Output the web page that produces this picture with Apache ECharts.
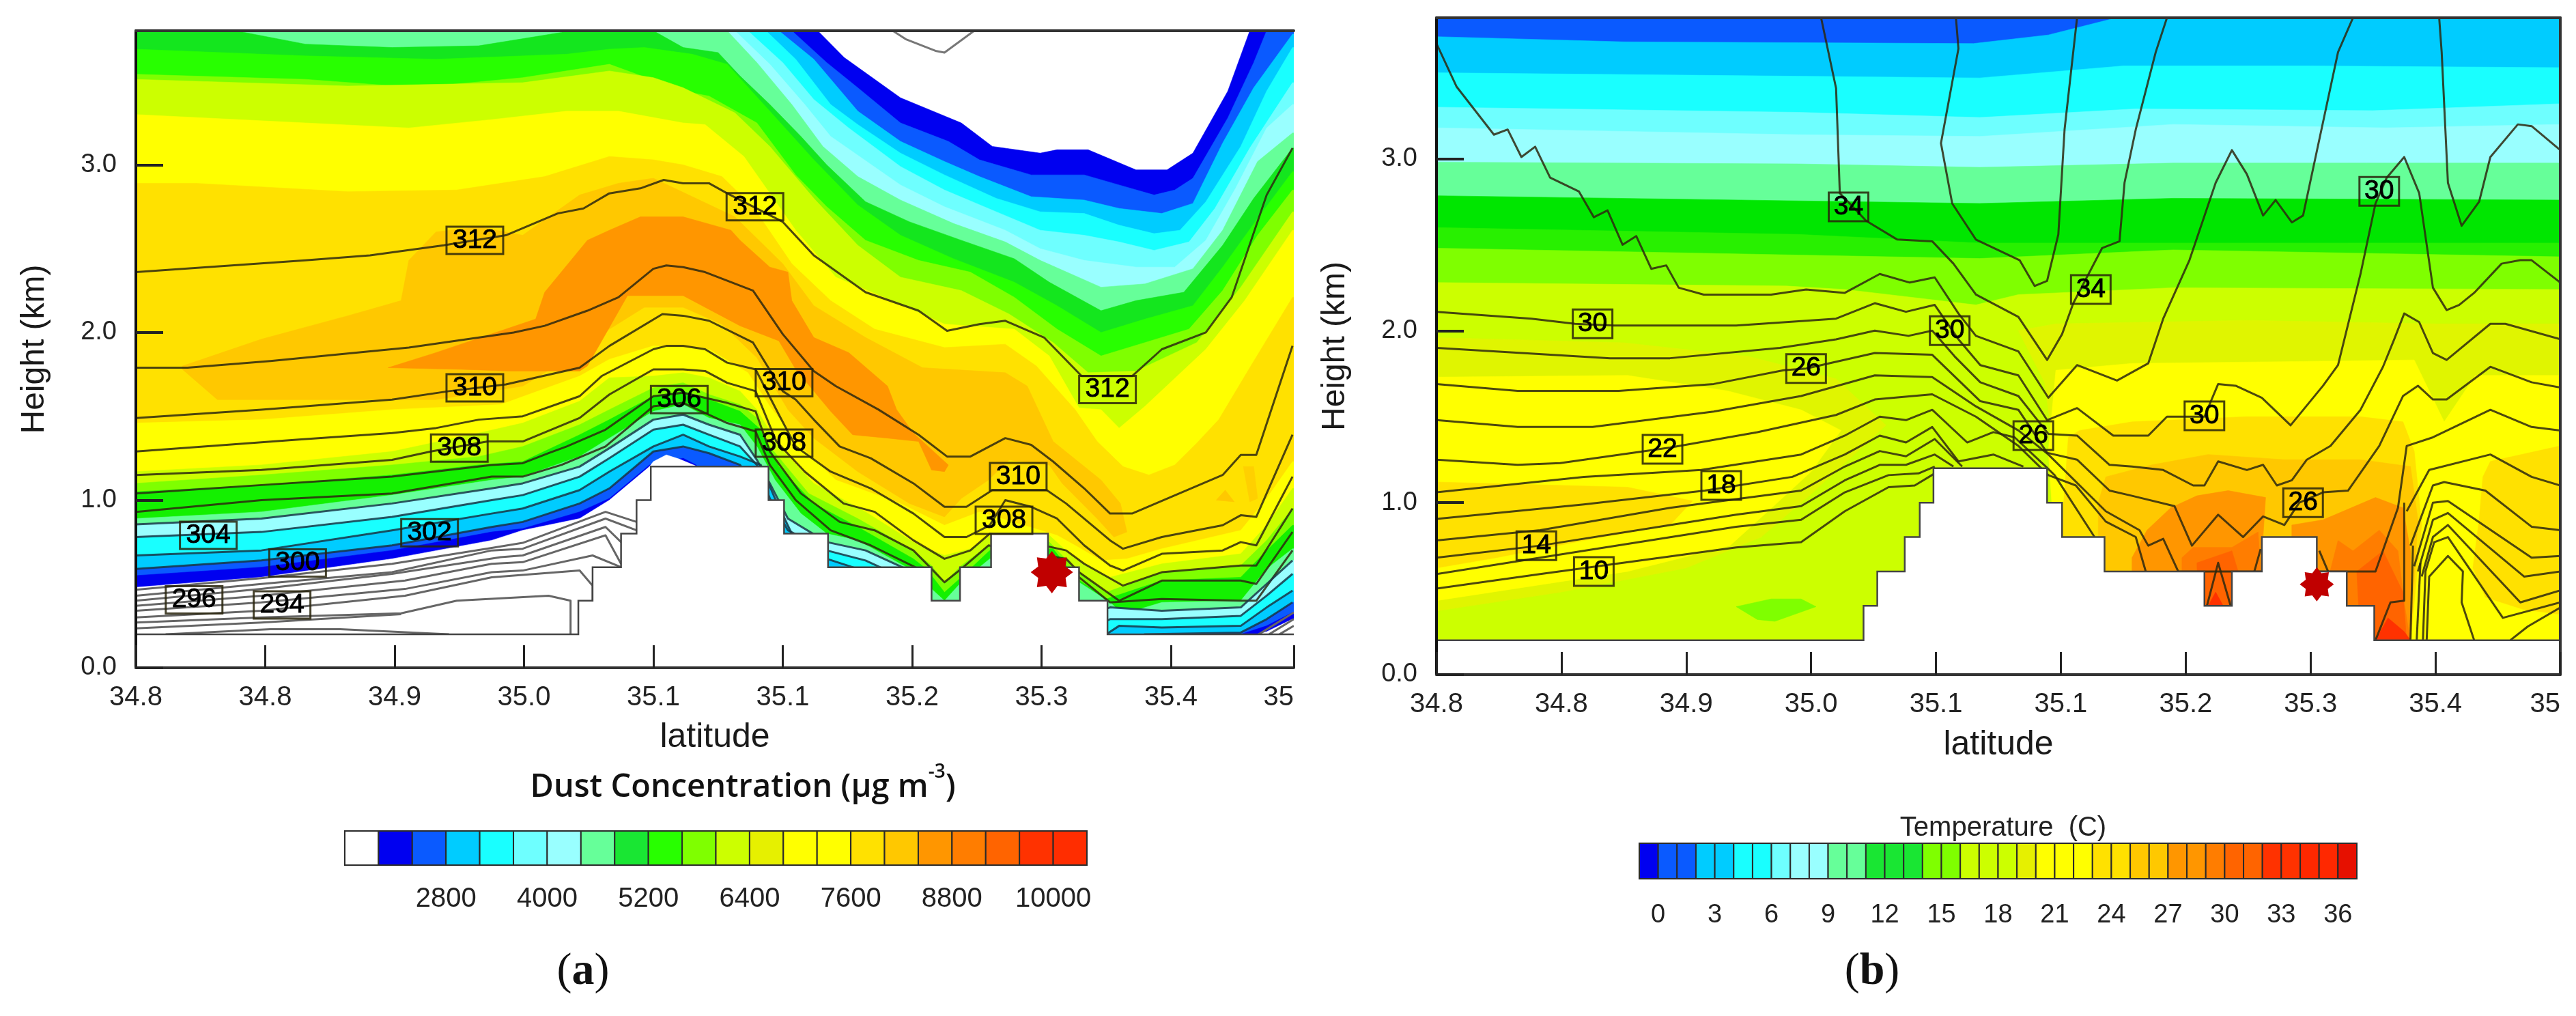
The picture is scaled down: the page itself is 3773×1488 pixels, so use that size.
<!DOCTYPE html>
<html><head><meta charset="utf-8"><style>html,body{margin:0;background:#fff}#c{width:3773px;height:1488px}</style>
<script src="https://cdn.jsdelivr.net/npm/echarts@6/dist/echarts.min.js"></script></head><body><div id="c"></div>
<script>
// x positions are in tick units of the printed latitude axis, y in km
const LAT_TICKS=['34.8','34.8','34.9','35.0','35.1','35.1','35.2','35.3','35.4','35'];
const DUST_TICKS={3:'2800',6:'4000',9:'5200',12:'6400',15:'7600',18:'8800',21:'10000'};
const TEMP_TICKS=[0,3,6,9,12,15,18,21,24,27,30,33,36];
const DUST_COLORS=['#ffffff','#0000f0','#0a5aff','#00ccff','#19ffff','#6effff','#99ffff','#66ff99','#19e633','#28ff00','#7fff00','#ccff00','#e6f000','#ffff00','#ffff00','#ffe100','#ffc800','#ff9600','#ff7d00','#ff6400','#ff3200','#ff2d00'];
const TEMP_COLORS=['#0000f0','#0a5aff','#0a5aff','#00ccff','#00ccff','#19ffff','#19ffff','#6effff','#99ffff','#99ffff','#66ff99','#66ff99','#19e633','#19e633','#19e633','#7fff00','#7fff00','#ccff00','#ccff00','#ccff00','#e6f000','#ffff00','#ffff00','#ffff00','#ffe100','#ffe100','#ffc800','#ffc800','#ff9600','#ff9600','#ff7d00','#ff6400','#ff6400','#ff3200','#ff3200','#ff2800','#ff2800','#e61000'];
const TERRAIN_STEPS=[[3.42,.2],[3.53,.4],[3.75,.6],[3.87,.8],[3.98,1],[4.89,1.2],[5.01,1],[5.35,.8],[6.15,.6],[6.37,.4],[6.61,.6],[7.05,.8],[7.29,.6],[7.51,.4],[9.1,.2]];

// ---------- panel (a) dust: upper band edges
const A_U0=[[0,4.5],[5,4.3],[5.27,3.8],[5.475,3.64],[5.91,3.4],[6.38,3.25],[6.62,3.11],[6.99,3.07],[7.12,3.09],[7.36,3.09],[7.73,2.97],[7.97,2.97],[8.17,3.07],[8.44,3.44],[8.61,3.8],[8.7,4.3],[8.95,4.5]];
const A_U1=[[0,4.4],[4.8,4.2],[5.07,3.8],[5.34,3.61],[5.58,3.46],[5.91,3.25],[6.28,3.14],[6.52,3.03],[6.92,2.94],[7.33,2.94],[7.6,2.88],[7.87,2.82],[8.03,2.85],[8.17,2.92],[8.44,3.28],[8.64,3.61],[8.74,3.8],[8.95,4.2]];
const A_U2=[[0,4.4],[4.7,4.2],[4.97,3.8],[5.24,3.63],[5.58,3.32],[5.91,3.14],[6.25,3.02],[6.52,2.93],[6.92,2.81],[7.33,2.79],[7.6,2.74],[7.93,2.71],[8.17,2.77],[8.4,3.13],[8.64,3.46],[8.94,3.78]];
const A_U3=[[0,4.3],[4.6,4.2],[4.87,3.8],[5.1,3.63],[5.37,3.36],[5.58,3.24],[5.91,3.07],[6.25,2.94],[6.65,2.8],[6.99,2.72],[7.33,2.71],[7.6,2.64],[7.87,2.59],[8.07,2.61],[8.27,2.78],[8.54,3.11],[8.74,3.44],[8.94,3.7]];
const A_U4=[[0,4.3],[4.5,4.2],[4.73,3.8],[5,3.61],[5.24,3.39],[5.51,3.22],[5.91,2.99],[6.25,2.85],[6.65,2.72],[6.99,2.61],[7.33,2.58],[7.6,2.54],[7.87,2.49],[8.14,2.54],[8.34,2.74],[8.61,3.1],[8.94,3.49]];
const A_U5=[[0,4.2],[4.4,4.1],[4.63,3.8],[4.9,3.6],[5.17,3.36],[5.37,3.17],[5.91,2.88],[6.25,2.75],[6.72,2.61],[6.99,2.5],[7.33,2.43],[7.73,2.39],[8.03,2.39],[8.27,2.55],[8.5,2.86],[8.74,3.22],[8.94,3.36]];
const A_U6=[[0,4.2],[4.3,4.1],[4.57,3.8],[4.8,3.61],[5.07,3.36],[5.31,3.11],[5.58,2.93],[5.91,2.79],[6.32,2.65],[6.72,2.54],[6.99,2.43],[7.46,2.27],[7.8,2.29],[8.17,2.38],[8.4,2.61],[8.67,3.02],[8.94,3.19]];
const A_U7=[[0,3.95],[.77,3.8],[1.31,3.72],[1.98,3.7],[2.65,3.71],[3.29,3.79],[3.6,3.9],[4,3.8],[4.23,3.7],[4.5,3.67],[4.67,3.53],[4.9,3.36],[5.14,3.17],[5.34,3],[5.64,2.78],[5.98,2.66],[6.38,2.55],[6.79,2.44],[7.06,2.3],[7.46,2.13],[7.73,2.19],[8.1,2.24],[8.4,2.52],[8.64,2.8],[8.94,3.1]];
const A_U8=[[0,3.69],[1.31,3.65],[2.32,3.63],[3.33,3.66],[3.66,3.69],[3.93,3.7],[4.3,3.66],[4.57,3.6],[4.9,3.32],[5.24,3.03],[5.58,2.76],[5.91,2.58],[6.32,2.44],[6.79,2.3],[7.12,2.16],[7.46,2],[7.8,2.08],[8.17,2.16],[8.4,2.39],[8.67,2.68],[8.94,2.96]];
const A_U9=[[0,3.54],[1.31,3.51],[2.18,3.46],[2.99,3.52],[3.66,3.6],[4.23,3.44],[4.43,3.41],[4.8,3.25],[5.1,2.94],[5.34,2.75],[5.64,2.55],[6.05,2.43],[6.45,2.36],[6.79,2.21],[7.12,2.02],[7.46,1.86],[7.8,1.94],[8.14,2.02],[8.4,2.25],[8.67,2.58],[8.94,2.85]];
const A_U10=[[0,3.51],[1.64,3.47],[2.99,3.49],[3.66,3.56],[4,3.52],[4.23,3.46],[4.63,3.31],[4.9,3.11],[5.24,2.8],[5.58,2.52],[5.91,2.33],[6.38,2.25],[6.75,2.11],[7.09,1.94],[7.36,1.76],[7.73,1.77],[8.2,1.94],[8.54,2.27],[8.94,2.72]];
const A_U11=[[0,3.3],[1.31,3.25],[2.11,3.22],[2.75,3.27],[3.33,3.32],[3.73,3.32],[4.23,3.25],[4.4,3.24],[4.7,3.05],[5.1,2.61],[5.41,2.33],[5.78,2.21],[6.25,2.05],[6.79,2.02],[7.06,1.86],[7.29,1.55],[7.46,1.54],[7.6,1.43],[7.8,1.56],[8.27,1.9],[8.57,2.19],[8.94,2.61]];
const A_U12=[[0,2.89],[.46,2.89],[1.64,2.84],[2.48,2.85],[3.16,2.93],[3.66,3.05],[4,3.03],[4.23,3],[4.53,2.93],[4.77,2.75],[5.07,2.41],[5.37,2.19],[5.71,2.02],[6.25,1.91],[6.72,1.93],[6.96,1.8],[7.19,1.6],[7.26,1.54],[7.43,1.35],[7.63,1.2],[7.83,1.15],[8.03,1.21],[8.2,1.34],[8.37,1.48],[8.61,1.79],[8.94,2.21]];
const A_CORE1=[[3.43,2.82],[3.73,2.89],[4,2.92],[4.63,2.69],[5,2.41],[5.24,2.16],[5.64,1.97],[6.08,1.79],[6.72,1.76],[6.89,1.68],[7.09,1.35],[7.46,1.12],[7.61,.98],[7.66,.81],[7.56,.78],[7.43,.89],[7.16,1.1],[7.06,1.21],[6.75,1.24],[6.59,1.12],[6.38,1.01],[6.25,.9],[5.98,.98],[5.58,1.17],[5.24,1.37],[5.04,1.54],[4.8,1.85],[4.53,2.05],[4.23,2.15],[3.93,2.15],[3.66,2.02],[3.5,1.92],[2.99,1.68],[2.32,1.6],[.63,1.6],[.36,1.78],[.36,1.8],[.97,1.96],[1.64,2.1],[2.05,2.19],[2.11,2.43],[2.32,2.6],[2.65,2.63],[2.99,2.58]];
const A_CORE2=[[3.9,2.69],[4.23,2.69],[4.6,2.61],[4.67,2.55],[4.9,2.39],[5.04,2.36],[5.07,2.19],[5.24,1.97],[5.51,1.88],[5.81,1.68],[5.88,1.54],[6.01,1.4],[6.28,1.21],[6.25,1.17],[6.15,1.18],[6.05,1.35],[5.81,1.37],[5.54,1.39],[5.37,1.53],[5.1,1.78],[4.97,1.95],[4.67,2.04],[4.23,2.22],[4,2.22],[3.8,2.22],[3.49,1.8],[3.43,1.77],[2.89,1.77],[2.52,1.78],[1.95,1.79],[2.32,1.88],[3.09,2.08],[3.16,2.24],[3.49,2.55],[3.66,2.61]];
const A_BLOB1=[[8.35,1],[8.42,1.06],[8.49,.99]];
const A_BLOB2=[[8.56,1.2],[8.64,1.2],[8.67,1.01],[8.61,.99]];
// ---------- panel (a) dust: lower band edges
const A_L1=[[0,1.46],[.97,1.48],[1.98,1.54],[2.82,1.57],[3.43,1.74],[3.66,1.84],[4,1.92],[4.43,1.9],[4.73,1.76],[4.9,1.56],[5.14,1.32],[5.41,1.12],[5.91,.98],[6.25,.85],[6.52,.93],[7.12,.79],[7.26,.73],[7.46,.64],[7.66,.65],[7.93,.71],[8.54,.82],[8.74,1.01],[8.94,1.23]];
const A_L2=[[0,1.17],[.97,1.21],[1.98,1.29],[2.65,1.4],[2.99,1.46],[3.43,1.59],[3.66,1.73],[4,1.74],[4.23,1.76],[4.43,1.73],[4.67,1.65],[4.8,1.54],[4.97,1.32],[5.24,1.1],[5.64,.93],[6.05,.73],[6.25,.67],[6.45,.71],[6.61,.79],[7.06,.79],[7.26,.65],[7.53,.54],[7.93,.62],[8.54,.68],[8.74,.85],[8.94,1.07]];
const A_L3=[[0,1.1],[.97,1.15],[1.98,1.21],[2.65,1.26],[2.99,1.32],[3.43,1.45],[3.66,1.54],[4,1.67],[4.23,1.7],[4.43,1.63],[4.67,1.57],[4.8,1.49],[4.9,1.32],[5.2,1.04],[5.58,.89],[6.01,.7],[6.15,.61],[6.25,.51],[6.38,.61],[6.59,.73],[7.06,.75],[7.26,.59],[7.5,.45],[7.93,.57],[8.54,.61],[8.74,.76],[8.94,.95]];
const A_L4=[[0,1.05],[.97,1.09],[1.98,1.15],[2.65,1.21],[2.99,1.23],[3.43,1.39],[3.66,1.48],[4,1.62],[4.23,1.65],[4.43,1.6],[4.67,1.53],[4.83,1.42],[4.97,1.2],[5.24,.98],[5.58,.84],[6.01,.65],[6.11,.59],[6.25,.45],[6.38,.54],[6.6,.7],[7.09,.71],[7.26,.54],[7.5,.41],[7.93,.52],[8.54,.54],[8.74,.7],[8.94,.85]];
const A_L5=[[0,.89],[.97,.93],[1.98,1.03],[2.75,1.12],[2.99,1.14],[3.43,1.26],[3.66,1.37],[4,1.53],[4.23,1.57],[4.43,1.49],[4.67,1.45],[4.8,1.32],[4.94,1.12],[5.14,.92],[5.34,.8],[5.58,.76],[5.98,.59],[6.25,.4],[6.38,.51],[6.6,.65],[7.29,.51],[7.53,.39],[7.63,.32],[7.93,.39],[8.54,.4],[8.74,.59],[8.94,.71]];
const A_L6=[[0,.855],[.97,.89],[1.98,.98],[2.75,1.07],[2.99,1.1],[3.43,1.2],[3.66,1.31],[4,1.48],[4.23,1.51],[4.43,1.45],[4.67,1.39],[4.8,1.24],[4.9,1.1],[5.04,.89],[5.34,.75],[5.64,.7],[5.98,.58],[6.1,.3],[7.3,.3],[7.53,.36],[7.93,.34],[8.54,.36],[8.74,.5],[8.94,.64]];
const A_L7=[[0,.78],[.97,.81],[1.98,.9],[2.75,1],[2.99,1.03],[3.43,1.14],[3.66,1.25],[4,1.42],[4.23,1.45],[4.43,1.39],[4.67,1.32],[4.8,1.21],[4.9,1.01],[5.04,.82],[5.34,.7],[5.64,.64],[5.78,.59],[5.9,.3],[7.4,.25],[7.53,.29],[7.93,.29],[8.54,.31],[8.74,.43],[8.94,.56]];
const A_L8=[[0,.67],[.97,.7],[1.98,.82],[2.75,.92],[2.99,.95],[3.43,1.06],[3.66,1.17],[4,1.32],[4.23,1.39],[4.43,1.32],[4.67,1.26],[4.83,1.21],[4.94,1.01],[5.07,.8],[5.34,.65],[5.58,.59],[5.7,.3],[7.5,.2],[7.6,.25],[7.93,.24],[8.54,.25],[8.74,.36],[8.94,.46]];
const A_L9=[[0,.59],[.97,.64],[1.98,.73],[2.75,.84],[2.99,.87],[3.43,.98],[3.66,1.07],[4,1.29],[4.23,1.32],[4.43,1.28],[4.67,1.21],[4.85,1],[5,.5],[5.4,.3],[7.6,.15],[7.8,.2],[8.54,.21],[8.74,.29],[8.94,.39]];
const A_L10=[[0,.55],[.97,.6],[1.98,.7],[2.75,.81],[2.99,.83],[3.43,.93],[3.66,1.01],[3.97,1.21],[4.23,1.25],[4.33,1.21],[4.5,1],[5,.3],[7.8,.1],[8.3,.15],[8.54,.2],[8.74,.25],[8.94,.33]];
const A_L11=[[0,.48],[.97,.54],[1.98,.65],[2.75,.76],[2.99,.82],[3.43,.89],[3.66,1],[3.97,1.2],[4,1.23],[4.1,1.27],[4.2,1.245],[4.34,1.2],[4.4,.5],[8.5,.05],[8.61,.19],[8.74,.215],[8.94,.29]];
// ---------- panel (a) potential-temperature contours
const A_C1=[[0,2.36],[1.31,2.43],[1.81,2.46],[2.38,2.52],[2.86,2.58],[3.26,2.71],[3.46,2.74],[3.66,2.83],[3.9,2.86],[4.08,2.91],[4.23,2.89],[4.43,2.89],[4.57,2.83],[5,2.66],[5.24,2.46],[5.64,2.24],[6.05,2.13],[6.27,2.01],[6.52,2.05],[6.72,2.07],[7.02,1.97],[7.31,1.74],[7.7,1.74],[7.93,1.9],[8.27,2],[8.47,2.21],[8.74,2.82],[8.94,3.1]];
const A_C2=[[0,1.79],[.4,1.79],[1.04,1.83],[2.11,1.91],[2.92,2],[3.16,2.04],[3.49,2.13],[3.73,2.21],[4,2.38],[4.1,2.4],[4.23,2.39],[4.4,2.36],[4.77,2.25],[5,1.99],[5.24,1.77],[5.41,1.68],[5.74,1.54],[6.05,1.39],[6.27,1.26],[6.45,1.26],[6.72,1.37],[6.92,1.33],[7.09,1.23],[7.33,1.07],[7.53,.92],[7.7,.92],[8.4,1.15],[8.54,1.27],[8.66,1.27],[8.94,1.92]];
const A_C3=[[0,1.49],[.97,1.54],[1.98,1.6],[2.42,1.65],[2.86,1.69],[3.43,1.79],[3.66,1.92],[4.07,2.11],[4.23,2.1],[4.43,2.07],[4.77,1.94],[5,1.65],[5.1,1.6],[5.24,1.48],[5.44,1.32],[5.68,1.25],[6.01,1.1],[6.25,.96],[6.42,.96],[6.62,1.06],[7.04,1.06],[7.19,.98],[7.53,.76],[7.63,.71],[7.93,.78],[8.4,.85],[8.54,.91],[8.66,.9],[8.94,1.39]];
const A_C4=[[0,1.29],[1.24,1.36],[1.98,1.4],[2.32,1.43],[2.65,1.48],[2.99,1.5],[3.43,1.62],[3.6,1.74],[4,1.9],[4.1,1.92],[4.23,1.92],[4.4,1.9],[4.57,1.82],[4.79,1.78],[4.97,1.51],[5.1,1.32],[5.37,1.17],[5.68,1.07],[6.01,.92],[6.25,.78],[6.42,.78],[6.6,.85],[6.72,1],[6.92,.96],[7.12,.89],[7.33,.73],[7.53,.61],[7.63,.58],[7.93,.68],[8.4,.7],[8.54,.75],[8.66,.73],[8.94,1.14]];
const A_C5=[[0,1.15],[.97,1.18],[1.98,1.24],[2.28,1.29],[2.72,1.35],[2.99,1.35],[3.43,1.49],[3.66,1.63],[4,1.78],[4.23,1.78],[4.4,1.77],[4.57,1.7],[4.79,1.65],[4.95,1.35],[5.17,1.17],[5.47,.98],[5.71,.93],[6.01,.76],[6.25,.65],[6.45,.7],[6.6,.8],[7.19,.7],[7.33,.62],[7.63,.49],[7.93,.57],[8.54,.61],[8.66,.61],[8.94,.95]];
const A_C6=[[0,1.04],[.97,1.09],[1.98,1.14],[2.75,1.21],[2.99,1.22],[3.19,1.28],[3.33,1.32],[3.63,1.42],[4,1.62],[4.23,1.64],[4.57,1.58],[4.79,1.53],[4.9,1.29],[5.14,1.04],[5.44,.87],[5.71,.82],[6.01,.7],[6.15,.59],[6.25,.51],[6.38,.59],[6.59,.73],[7.19,.65],[7.29,.57],[7.6,.4],[7.93,.52],[8.54,.52],[8.66,.5],[8.94,.81]];
const A_C7=[[0,.93],[.97,1],[1.98,1.04],[2.75,1.14],[2.99,1.14],[3.29,1.21],[3.63,1.32],[3.8,1.43],[4,1.56],[4.23,1.58],[4.57,1.46],[4.79,1.41],[4.9,1.21],[5.1,1],[5.37,.82],[5.68,.73],[6.05,.59],[6.2,.3],[7.2,.3],[7.29,.54],[7.53,.39],[7.93,.41],[8.54,.4],[8.66,.4],[8.94,.7]];
const A_G1=[[0,.465],[.97,.535],[1.98,.62],[2.75,.715],[2.99,.745],[3.63,.93],[3.87,.87]];
const A_G2=[[0,.43],[.97,.5],[1.98,.57],[2.75,.7],[2.99,.71],[3.63,.89],[3.87,.82]];
const A_G3=[[0,.4],[.97,.47],[1.98,.56],[2.82,.66],[2.99,.67],[3.63,.84],[3.75,.75]];
const A_G4=[[0,.37],[.97,.43],[2.08,.52],[2.75,.62],[2.99,.63],[3.63,.79],[3.75,.62]];
const A_G5=[[0,.34],[.97,.39],[2.08,.47],[2.75,.57],[2.99,.58],[3.53,.67],[3.75,.6]];
const A_G6=[[0,.3],[.97,.34],[2.08,.43],[2.75,.54],[3.43,.58],[3.53,.49],[3.53,.4]];
const A_G7=[[0,.27],[.97,.3],[2.05,.325],[2.48,.4],[3.19,.43],[3.36,.4],[3.36,.2]];
const A_G8=[[.23,.2],[1.04,.23],[1.58,.23],[2.42,.2]];
const A_G9=[[0,.235],[.97,.27],[2.05,.32]];
const A_H1=[[8.68,.2],[8.95,.33]];
const A_H2=[[8.76,.2],[8.95,.29]];
const A_H3=[[8.84,.2],[8.95,.25]];
const A_TOP=[[5.85,3.8],[5.95,3.75],[6.18,3.68],[6.25,3.67],[6.48,3.8]];
const A_LABELS=[['312',2.62,2.55],['312',4.785,2.75],['312',7.51,1.66],['310',2.62,1.67],['310',5.01,1.7],['310',6.82,1.14],['308',2.5,1.31],['308',5.01,1.34],['308',6.71,.88],['306',4.2,1.6],['304',.56,.79],['302',2.27,.805],['300',1.25,.625],['296',.45,.405],['294',1.13,.375]];
const A_STAR=[[7.08,.57]];

// ---------- panel (b) temperature: band edges
const B_U1=[[0,3.71],[1.5,3.68],[4.3,3.67],[4.9,3.72],[5.5,3.83],[9,3.95]];
const B_U2=[[0,3.5],[2.9,3.48],[4.35,3.47],[5.5,3.54],[7,3.54],[9,3.53]];
const B_U3=[[0,3.3],[2.9,3.27],[4.35,3.24],[5.6,3.29],[7.5,3.28],[9,3.32]];
const B_U4=[[0,3.18],[2.9,3.14],[4.35,3.13],[5.9,3.2],[7.6,3.18],[9,3.2]];
const B_U5=[[0,2.98],[2.9,2.97],[4.35,2.95],[5.9,2.975],[9,2.975]];
const B_U6=[[0,2.785],[2.9,2.755],[4.35,2.74],[5.9,2.77],[9,2.76]];
const B_U7=[[0,2.6],[2.9,2.56],[4.35,2.51],[5.9,2.51],[9,2.51]];
const B_U8=[[0,2.48],[2.9,2.44],[4.35,2.42],[5.9,2.47],[9,2.43]];
const B_U9=[[0,2.28],[2.8,2.26],[3.27,2.24],[4.32,2.15],[4.66,2.21],[5.9,2.25],[9,2.24]];
const B_E_LEFT=[[0,1.96],[1.5,1.93],[2.5,1.85],[3.2,1.72],[3.6,1.45],[3.3,1.25],[3,1.05],[2.6,.8],[2,.62],[1,.48],[0,.37]];
const B_Y_LEFT=[[0,1.73],[1.53,1.74],[2.33,1.65],[2.92,1.54],[3.24,1.42],[3,1.18],[2.7,.98],[2.35,.75],[1.53,.6],[0,.43]];
const B_G_LEFT=[[0,1.12],[1.53,1.09],[2.05,1.01],[1.87,.87],[1.18,.78],[.48,.68],[0,.62]];
const B_GREEN=[[2.4,.395],[2.68,.44],[2.92,.44],[3.04,.395],[2.71,.31],[2.57,.32]];
const B_E_RIGHT=[[4.66,2],[4.96,2.04],[6.49,2.06],[8,2.04],[9,2.04],[9,1],[5,1],[4.87,1.7]];
const B_Y_RIGHT=[[4.96,1.77],[5.57,1.81],[6.79,1.82],[7.83,1.83],[7.95,1.65],[8.07,1.47],[8.32,1.74],[9,1.74],[9,.2],[5,.2],[4.9,1.3]];
const B_G_RIGHT=[[5.06,1.38],[5.15,1.42],[5.57,1.47],[6.49,1.5],[7.4,1.5],[7.74,1.47],[7.83,1.3],[7.89,.87],[7.8,.19],[5,.19],[5.01,.87]];
const B_G_FAR=[[8.38,1.15],[8.44,1.24],[9,1.33],[9,.35],[8.7,.38],[8.4,.45],[8.3,.62],[8.35,.9]];
const B_O1=[[5.36,1.15],[5.73,1.22],[6.18,1.28],[6.79,1.25],[7.4,1.25],[7.8,1.21],[7.86,.9],[7.8,.19],[5.36,.19],[5.3,.6],[5.3,1]];
const B_O2A=[[5.57,.68],[5.69,.84],[5.88,.97],[6.09,1.04],[6.34,1.07],[6.64,1.03],[6.62,.81],[6.62,.5],[5.57,.5]];
const B_O2B=[[6.85,.87],[7.1,.9],[7.52,1.03],[7.74,.97],[7.8,.72],[7.8,.19],[6.85,.19]];
const B_O3A=[[5.97,.68],[6.06,.74],[6.37,.74],[6.58,.83],[6.6,.6],[6.6,.3],[5.97,.3]];
const B_O3B=[[7.22,.78],[7.34,.72],[7.55,.84],[7.7,.72],[7.75,.42],[7.8,.19],[7.05,.3]];
const B_O4A=[[6.09,.65],[6.37,.72],[6.42,.6],[6.4,.3],[6.1,.3]];
const B_O4B=[[7.37,.6],[7.58,.72],[7.74,.48],[7.77,.19],[7.4,.19]];
const B_R1=[[6.18,.4],[6.24,.48],[6.3,.4]];
const B_R2=[[7.52,.2],[7.62,.33],[7.75,.25],[7.8,.2]];
// ---------- panel (b) contours
const B_C1=[[3.08,3.82],[3.2,3.41],[3.23,2.8],[3.44,2.64],[3.69,2.53],[3.97,2.52],[4.14,2.39],[4.32,2.21],[4.66,2.08],[4.89,1.83],[5.01,1.98],[5.1,2.16],[5.33,2.48],[5.47,2.52],[5.51,2.86],[5.6,3.17],[5.76,3.62],[5.85,3.82]];
const B_C2=[[4.16,3.82],[4.18,3.64],[4.04,3.09],[4.13,2.74],[4.32,2.53],[4.67,2.41],[4.79,2.26],[4.89,2.29],[4.98,2.56],[5.03,3.17],[5.13,3.82]];
const B_C3=[[0,3.67],[.16,3.42],[.46,3.14],[.57,3.17],[.68,3.01],[.79,3.07],[.91,2.89],[1.14,2.81],[1.26,2.66],[1.37,2.7],[1.49,2.5],[1.6,2.55],[1.72,2.36],[1.84,2.38],[1.94,2.25],[2.14,2.21],[2.68,2.21],[2.96,2.24],[3.27,2.22],[3.55,2.33],[3.79,2.28],[3.99,2.31],[4.18,2.1],[4.32,1.97],[4.66,1.88],[4.9,1.61],[5.13,1.8],[5.45,1.71],[5.7,1.81],[5.82,2.07],[6.03,2.41],[6.24,2.86],[6.37,3.05],[6.49,2.91],[6.62,2.67],[6.72,2.76],[6.85,2.63],[6.94,2.67],[7.04,3.01],[7.22,3.62],[7.34,3.82]];
const B_C3B=[[8.03,3.82],[8.05,3.62],[8.1,2.86],[8.21,2.61],[8.35,2.75],[8.44,3.01],[8.66,3.2],[8.77,3.19],[9,3.05]];
const B_C4=[[0,2.11],[.76,2.07],[1.11,2.04],[1.42,2.03],[2.4,2.03],[3.2,2.07],[3.51,2.16],[3.76,2.11],[3.99,2.15],[4.18,1.95],[4.355,1.8],[4.66,1.74],[4.89,1.48],[5.13,1.55],[5.42,1.39],[5.7,1.39],[5.85,1.5],[6.15,1.5],[6.26,1.69],[6.4,1.68],[6.61,1.61],[6.84,1.45],[7.1,1.68],[7.22,1.8],[7.4,2.33],[7.52,2.74],[7.61,2.89],[7.75,3.01],[7.87,2.8],[7.98,2.25],[8.09,2.12],[8.19,2.15],[8.31,2.22],[8.53,2.39],[8.68,2.41],[8.77,2.41],[9,2.28]];
const B_C5=[[0,1.9],[1.39,1.84],[1.87,1.84],[2.75,1.9],[3.2,1.95],[3.51,2],[3.78,1.97],[3.97,2],[4.15,1.85],[4.355,1.7],[4.66,1.62],[4.9,1.4],[5.13,1.39],[5.39,1.22],[5.57,1.21],[5.82,1.19],[6.06,1.1],[6.15,1.1],[6.26,1.24],[6.49,1.19],[6.62,1.22],[6.73,1.1],[6.85,1.13],[6.97,1.25],[7.16,1.33],[7.4,1.54],[7.58,1.79],[7.67,1.95],[7.75,2.1],[7.87,2.05],[7.98,1.87],[8.09,1.83],[8.44,2.04],[8.56,2.04],[9,1.95]];
const B_C6=[[0,1.69],[.65,1.65],[1.46,1.65],[2.22,1.69],[2.78,1.77],[2.96,1.78],[3.51,1.87],[3.97,1.86],[4.355,1.59],[4.66,1.54],[4.89,1.29],[5.13,1.25],[5.39,1.07],[5.57,1.04],[5.91,.98],[6.05,.75],[6.26,.93],[6.46,.8],[6.62,.92],[6.79,.87],[6.91,1],[7.1,1.06],[7.3,1.07],[7.55,1.33],[7.74,1.62],[7.86,1.68],[7.98,1.6],[8.09,1.6],[8.44,1.79],[8.77,1.7],[9,1.67]];
const B_C7=[[0,1.48],[.65,1.44],[1.25,1.44],[2.22,1.53],[2.92,1.62],[3.51,1.74],[3.97,1.73],[4.32,1.56],[4.66,1.42],[4.9,1.28],[5.36,.95],[5.63,.84],[5.7,.75],[5.82,.79],[5.94,.6],[7.52,.6],[7.7,.97],[7.77,1.33],[7.98,1.38],[8.44,1.54],[8.77,1.44],[9,1.42]];
const B_C8=[[0,1.25],[.65,1.22],[.99,1.23],[1.87,1.32],[2.57,1.41],[3.2,1.51],[3.51,1.6],[3.97,1.63],[4.32,1.5],[4.66,1.33],[4.9,1.16],[5.12,1.1],[5.36,.89],[5.6,.8],[5.7,.55]];
const B_C8R=[[7.77,.95],[7.95,1.19],[8.44,1.28],[8.77,1.15],[9,1.1]];
const B_C9=[[0,1.06],[1.18,1.15],[2.12,1.19],[2.92,1.28],[3.27,1.39],[3.55,1.5],[3.76,1.48],[3.97,1.54],[4.25,1.35],[4.46,1.41],[4.63,1.38],[4.88,1.21],[4.95,1.16],[5.27,.8]];
const B_C9R=[[7.8,.75],[7.98,1.1],[8.07,1.12],[8.4,1.07],[8.77,.86],[9,.84]];
const B_C10=[[0,.905],[1.18,.99],[2.15,1.07],[2.85,1.15],[3.27,1.28],[3.55,1.39],[3.76,1.35],[3.97,1.44],[4.18,1.24],[4.46,1.28],[4.7,1.21]];
const B_C10R=[[7.83,.63],[7.98,1],[8.1,1.01],[8.77,.68],[9,.69]];
const B_C11=[[0,.78],[.83,.84],[1.87,.97],[2.92,1.07],[3.27,1.21],[3.55,1.3],[3.76,1.27],[3.99,1.37],[4.21,1.21]];
const B_C11R=[[7.86,.6],[7.98,.9],[8.1,.94],[8.71,.57],[9,.6]];
const B_C12=[[0,.68],[.83,.75],[1.87,.87],[2.4,.93],[2.92,.98],[3.27,1.13],[3.55,1.22],[3.76,1.22],[3.99,1.28],[4.14,1.21]];
const B_C12R=[[7.89,.57],[7.98,.8],[8.1,.87],[8.68,.42],[9,.49]];
const B_C13=[[0,.585],[.83,.68],[2.4,.86],[2.92,.9],[3.27,1.06],[3.62,1.16],[3.86,1.17],[3.99,1.21]];
const B_C13R=[[7.9,.2],[7.92,.6],[7.99,.77],[8.1,.8],[8.54,.33],[9,.42]];
const B_C14=[[0,.5],[.83,.585],[2.4,.74],[2.92,.77],[3.27,.95],[3.62,1.09],[3.83,1.1],[3.99,1.17]];
const B_C14R=[[7.93,.2],[7.95,.57],[8.1,.69],[8.22,.6],[8.21,.42],[8.31,.2]];
const B_C15=[[8.6,.2],[8.74,.28],[9,.39]];
const B_C16=[[6.17,.4],[6.26,.65],[6.36,.4]];
const B_C17=[[7.52,.2],[7.64,.42],[7.75,.43],[7.75,1]];
const B_C18=[[7.07,.72],[7.14,.6]];
const B_C19=[[6.55,.6],[6.6,.73]];
const B_C20=[[7.8,.2],[7.82,.75]];
const B_C21=[[7.85,.2],[7.88,.65]];
const B_LABELS=[['34',3.3,2.72],['34',5.24,2.24],['30',1.25,2.04],['30',4.11,2],['30',7.55,2.81],['30',6.15,1.505],['26',2.96,1.78],['26',4.78,1.39],['26',6.94,1],['22',1.81,1.31],['18',2.28,1.1],['14',.8,.75],['10',1.26,.6]];
const B_STAR=[[7.05,.525]];

const c=DUST_COLORS;
const A_BANDS=[[A_U0,c[1]],[A_U1,c[2]],[A_U2,c[3]],[A_U3,c[4]],[A_U4,c[5]],[A_U5,c[6]],[A_U6,c[7]],[A_U7,'#14e61e'],[A_U8,c[9]],[A_U9,c[10]],[A_U10,c[11]],[A_U11,'#ffff00'],[A_U12,'#ffe100'],[A_CORE1,'#ffc800',1],[A_CORE2,'#ff9600',1],[A_BLOB1,'#ffc800',1],[A_BLOB2,'#ffd000',1],
 [A_L1,'#ffff00'],[A_L2,c[11]],[A_L3,c[10]],[A_L4,'#14f000'],[A_L5,c[7]],[A_L6,c[6]],[A_L7,c[4]],[A_L8,c[3]],[A_L9,c[2]],[A_L10,c[1]],[A_L11,'#ffffff']];
const B_BANDS=[[[[0,9],[9,9]],'#0a5aff'],[B_U1,'#00ccff'],[B_U2,'#19ffff'],[B_U3,'#6effff'],[B_U4,'#99ffff'],[B_U5,'#66ff99'],[B_U6,'#00e600'],[B_U7,'#28f000'],[B_U8,'#7fff00'],[B_U9,'#ccff00'],
 [B_E_LEFT,'#e0f500',1],[B_Y_LEFT,'#ffff00',1],[B_G_LEFT,'#ffe100',1],[B_GREEN,'#7fff00',1],[B_E_RIGHT,'#e0f500',1],[B_Y_RIGHT,'#ffff00',1],[B_G_RIGHT,'#ffe100',1],[B_G_FAR,'#ffe100',1],[B_O1,'#ffc800',1],[B_O2A,'#ff9600',1],[B_O2B,'#ff9600',1],[B_O3A,'#ff7d00',1],[B_O3B,'#ff7d00',1],[B_O4A,'#ff6400',1],[B_O4B,'#ff6400',1],[B_R1,'#ff3200',1],[B_R2,'#ff3200',1]];
const DK='rgba(45,40,15,.85)',CY='rgba(25,55,70,.85)',GR='#666';
const A_LINES=[[A_C1,DK],[A_C2,DK],[A_C3,DK],[A_C4,DK],[A_C5,DK],[A_C6,DK],[A_C7,DK],[A_L6,CY],[A_L7,CY],[A_L8,CY],[A_L9,CY],[A_G1,GR],[A_G2,GR],[A_G3,GR],[A_G4,GR],[A_G5,GR],[A_G6,GR],[A_G7,GR],[A_G8,GR],[A_G9,GR],[A_H1,GR],[A_H2,GR],[A_H3,GR],[A_TOP,'#777']];
const B_LINES=[B_C1,B_C2,B_C3,B_C3B,B_C4,B_C5,B_C6,B_C7,B_C8,B_C8R,B_C9,B_C9R,B_C10,B_C10R,B_C11,B_C11R,B_C12,B_C12R,B_C13,B_C13R,B_C14,B_C14R,B_C15,B_C16,B_C17,B_C18,B_C19,B_C20,B_C21].map(l=>[l,DK]);

function staircase(){const out=[];let px=0;
 TERRAIN_STEPS.forEach(s=>{out.push([px,s[1]]);out.push([s[0],s[1]]);px=s[0];});return out;}
const sty=(f)=>({fill:f,stroke:f,lineWidth:.6});
function polySeries(name,g,bands){return {type:'custom',name,xAxisIndex:g,yAxisIndex:g,clip:true,silent:true,animation:false,z:2,
 data:bands.map((b,i)=>[i,0]),encode:{x:0,y:1},
 renderItem:(p,api)=>{const b=bands[p.dataIndex],pts=b[0];let ring=pts;
   if(!b[2]){ring=[[-1,pts[0][1]],...pts,[10,pts[pts.length-1][1]],[10,-1],[-1,-1]];}
   return {type:'polygon',shape:{points:ring.map(q=>api.coord(q))},style:sty(b[1])};}};}
function lineSeries(name,g,lines,w){return {type:'custom',name,xAxisIndex:g,yAxisIndex:g,clip:true,silent:true,animation:false,z:3,
 data:lines.map((b,i)=>[i,0]),encode:{x:0,y:1},
 renderItem:(p,api)=>({type:'polyline',shape:{points:lines[p.dataIndex][0].map(q=>api.coord(q))},style:{fill:null,stroke:lines[p.dataIndex][1],lineWidth:w,lineJoin:'round'}})};}
function terrainSeries(name,g){const st=staircase();return {type:'custom',name,xAxisIndex:g,yAxisIndex:g,clip:true,silent:true,animation:false,z:4,
 data:[[0,0]],encode:{x:0,y:1},
 renderItem:(p,api)=>{const top=st.map(q=>api.coord(q));
  return {type:'group',children:[
   {type:'polygon',shape:{points:[...st,[st[st.length-1][0],-1],[0,-1]].map(q=>api.coord(q))},style:{fill:'#fff'}},
   {type:'polyline',shape:{points:top},style:{fill:null,stroke:'#444',lineWidth:2.5}}]};}};}
function labelSeries(name,g,labels,bw,bh){return {type:'custom',name,xAxisIndex:g,yAxisIndex:g,clip:false,silent:true,animation:false,z:5,
 data:labels.map(l=>[l[1],l[2]]),encode:{x:0,y:1},
 renderItem:(p,api)=>{const q=api.coord([api.value(0),api.value(1)]);
  return {type:'group',children:[
   {type:'rect',shape:{x:q[0]-bw/2,y:q[1]-bh/2,width:bw,height:bh},style:{fill:'transparent',stroke:'rgba(40,35,10,.85)',lineWidth:3}},
   {type:'text',style:{x:q[0],y:q[1],text:labels[p.dataIndex][0],align:'center',verticalAlign:'middle',font:'39px "Liberation Sans"',fill:'#000',stroke:'#000',lineWidth:.9}}]};}};}
const starPath='path://'+Array.from({length:16},(_,i)=>{const a=i*Math.PI/8-Math.PI/2,r=i%2?70:100;return (i?'L':'M')+(100+r*Math.cos(a)).toFixed(1)+' '+(100+r*Math.sin(a)).toFixed(1);}).join(' ')+' Z';
function starSeries(name,g,d,s){return {type:'scatter',name,xAxisIndex:g,yAxisIndex:g,data:d,symbol:starPath,symbolSize:s,itemStyle:{color:'#c00000',opacity:1},z:6,silent:true,animation:false};}
function barSeries(name,g,colors,off){return {type:'custom',name,xAxisIndex:g,yAxisIndex:g,silent:true,animation:false,
 data:colors.map((col,i)=>[i+off,0]),encode:{x:0,y:1},
 renderItem:(p,api)=>{const a=api.coord([p.dataIndex+off,1]),b=api.coord([p.dataIndex+off+1,0]);
  return {type:'rect',shape:{x:a[0],y:a[1],width:b[0]-a[0],height:b[1]-a[1]},style:{fill:colors[p.dataIndex],stroke:'#2a2a2a',lineWidth:2}};}};}

const TXT='"Liberation Sans"',LC='#222';
const xMain=(g,max)=>({type:'value',gridIndex:g,min:0,max,interval:1,z:10,position:'bottom',
 name:'latitude',nameLocation:'middle',nameGap:g?78:77,nameTextStyle:{fontFamily:TXT,fontSize:50,color:'#1a1a1a'},
 axisLine:{show:true,onZero:false,lineStyle:{color:'#333',width:4}},axisTick:{show:true,inside:true,length:33,lineStyle:{color:'#222',width:3}},splitLine:{show:false},
 axisLabel:{fontFamily:TXT,fontSize:40,color:LC,margin:24,alignMaxLabel:'right',showMinLabel:true,showMaxLabel:true,formatter:v=>LAT_TICKS[Math.round(v)]}});
const yMain=(g,max,gap)=>({type:'value',gridIndex:g,min:0,max,interval:1,z:10,
 name:'Height (km)',nameLocation:'middle',nameRotate:90,nameGap:gap,nameTextStyle:{fontFamily:TXT,fontSize:48,color:'#1a1a1a'},
 axisLine:{show:true,onZero:false,lineStyle:{color:'#111',width:4}},axisTick:{show:true,inside:true,length:40,lineStyle:{color:'#222',width:4}},splitLine:{show:false},
 axisLabel:{fontFamily:TXT,fontSize:38,color:LC,margin:28,showMaxLabel:false,formatter:v=>v.toFixed(1)}});
const frameX=(g,max)=>({type:'value',gridIndex:g,min:0,max,position:'top',z:10,axisLine:{show:true,onZero:false,lineStyle:{color:'#333',width:4}},axisTick:{show:false},axisLabel:{show:false},splitLine:{show:false}});
const barY=g=>({type:'value',gridIndex:g,min:0,max:1,show:false});

const option={backgroundColor:'#fff',animation:false,
 title:[
  {text:'{a|Dust Concentration (µg m}{s|-3}{a|)}',left:1083,top:1112,textAlign:'center',textStyle:{rich:{a:{fontFamily:'"Open Sans"',fontSize:47,fontWeight:600,color:'#111',verticalAlign:'bottom',lineHeight:60},s:{fontFamily:'"Open Sans"',fontSize:28,fontWeight:600,color:'#111',verticalAlign:'top',lineHeight:60}}}},
  {text:'Temperature  (C)',left:2929,top:1188,textAlign:'center',textStyle:{fontFamily:TXT,fontSize:40,fontWeight:'normal',color:'#222'}},
  {text:'({b|a})',left:849,top:1386,textAlign:'center',textStyle:{fontFamily:'"Liberation Serif"',fontSize:66,fontWeight:'normal',color:'#111',rich:{b:{fontFamily:'"Liberation Serif"',fontSize:66,fontWeight:'bold',color:'#111'}}}},
  {text:'({b|b})',left:2737,top:1386,textAlign:'center',textStyle:{fontFamily:'"Liberation Serif"',fontSize:66,fontWeight:'normal',color:'#111',rich:{b:{fontFamily:'"Liberation Serif"',fontSize:66,fontWeight:'bold',color:'#111'}}}}
 ],
 grid:[{left:199,top:45,width:1696,height:933},{left:2104,top:26,width:1646,height:962},{left:505,top:1217,width:1087,height:50},{left:2401,top:1235,width:1051,height:52}],
 xAxis:[xMain(0,8.95),xMain(1,9),
  {type:'value',gridIndex:2,min:0,max:22,interval:1,axisLine:{show:false},axisTick:{show:false},splitLine:{show:false},axisLabel:{interval:0,hideOverlap:false,fontFamily:TXT,fontSize:40,color:LC,margin:30,formatter:v=>DUST_TICKS[v]||''}},
  {type:'value',gridIndex:3,min:-1,max:37,interval:1,axisLine:{show:false},axisTick:{show:false},splitLine:{show:false},axisLabel:{interval:0,hideOverlap:false,fontFamily:TXT,fontSize:38,color:LC,margin:35,formatter:v=>TEMP_TICKS.includes(v)?String(v):''}},
  frameX(0,8.95),frameX(1,9)],
 yAxis:[yMain(0,3.8,124),yMain(1,3.82,124),barY(2),barY(3),barY(0),
  {type:'value',gridIndex:1,min:0,max:3.82,position:'right',z:10,axisLine:{show:true,onZero:false,lineStyle:{color:'#333',width:4}},axisTick:{show:false},axisLabel:{show:false},splitLine:{show:false}}],
 series:[
  polySeries('Dust concentration bands',0,A_BANDS),lineSeries('Potential temperature contours',0,A_LINES,3),terrainSeries('Terrain a',0),labelSeries('Contour labels a',0,A_LABELS,83,40),starSeries('Site a',0,A_STAR,62),
  polySeries('Temperature bands',1,B_BANDS),lineSeries('Temperature contours',1,B_LINES,3),terrainSeries('Terrain b',1),labelSeries('Contour labels b',1,B_LABELS,58,42),starSeries('Site b',1,B_STAR,50),
  barSeries('Dust colour bar',2,DUST_COLORS,0),barSeries('Temperature colour bar',3,TEMP_COLORS,-1),
  {type:'line',xAxisIndex:4,yAxisIndex:4,data:[],silent:true},{type:'line',xAxisIndex:5,yAxisIndex:5,data:[],silent:true}
 ],
 graphic:[{type:'group',z:50,children:[
  {type:'rect',shape:{x:3107,y:26,width:643,height:50},style:{fill:'#fff',stroke:'#333',lineWidth:2}},
  {type:'text',style:{x:3117,y:51,text:'Temperature Contours: 0 to 36 by 1',verticalAlign:'middle',font:'38.5px "Liberation Sans"',fill:'#1a1a1a'}}]}]
};
echarts.init(document.getElementById('c'),null,{renderer:'canvas'}).setOption(option);
</script></body></html>
